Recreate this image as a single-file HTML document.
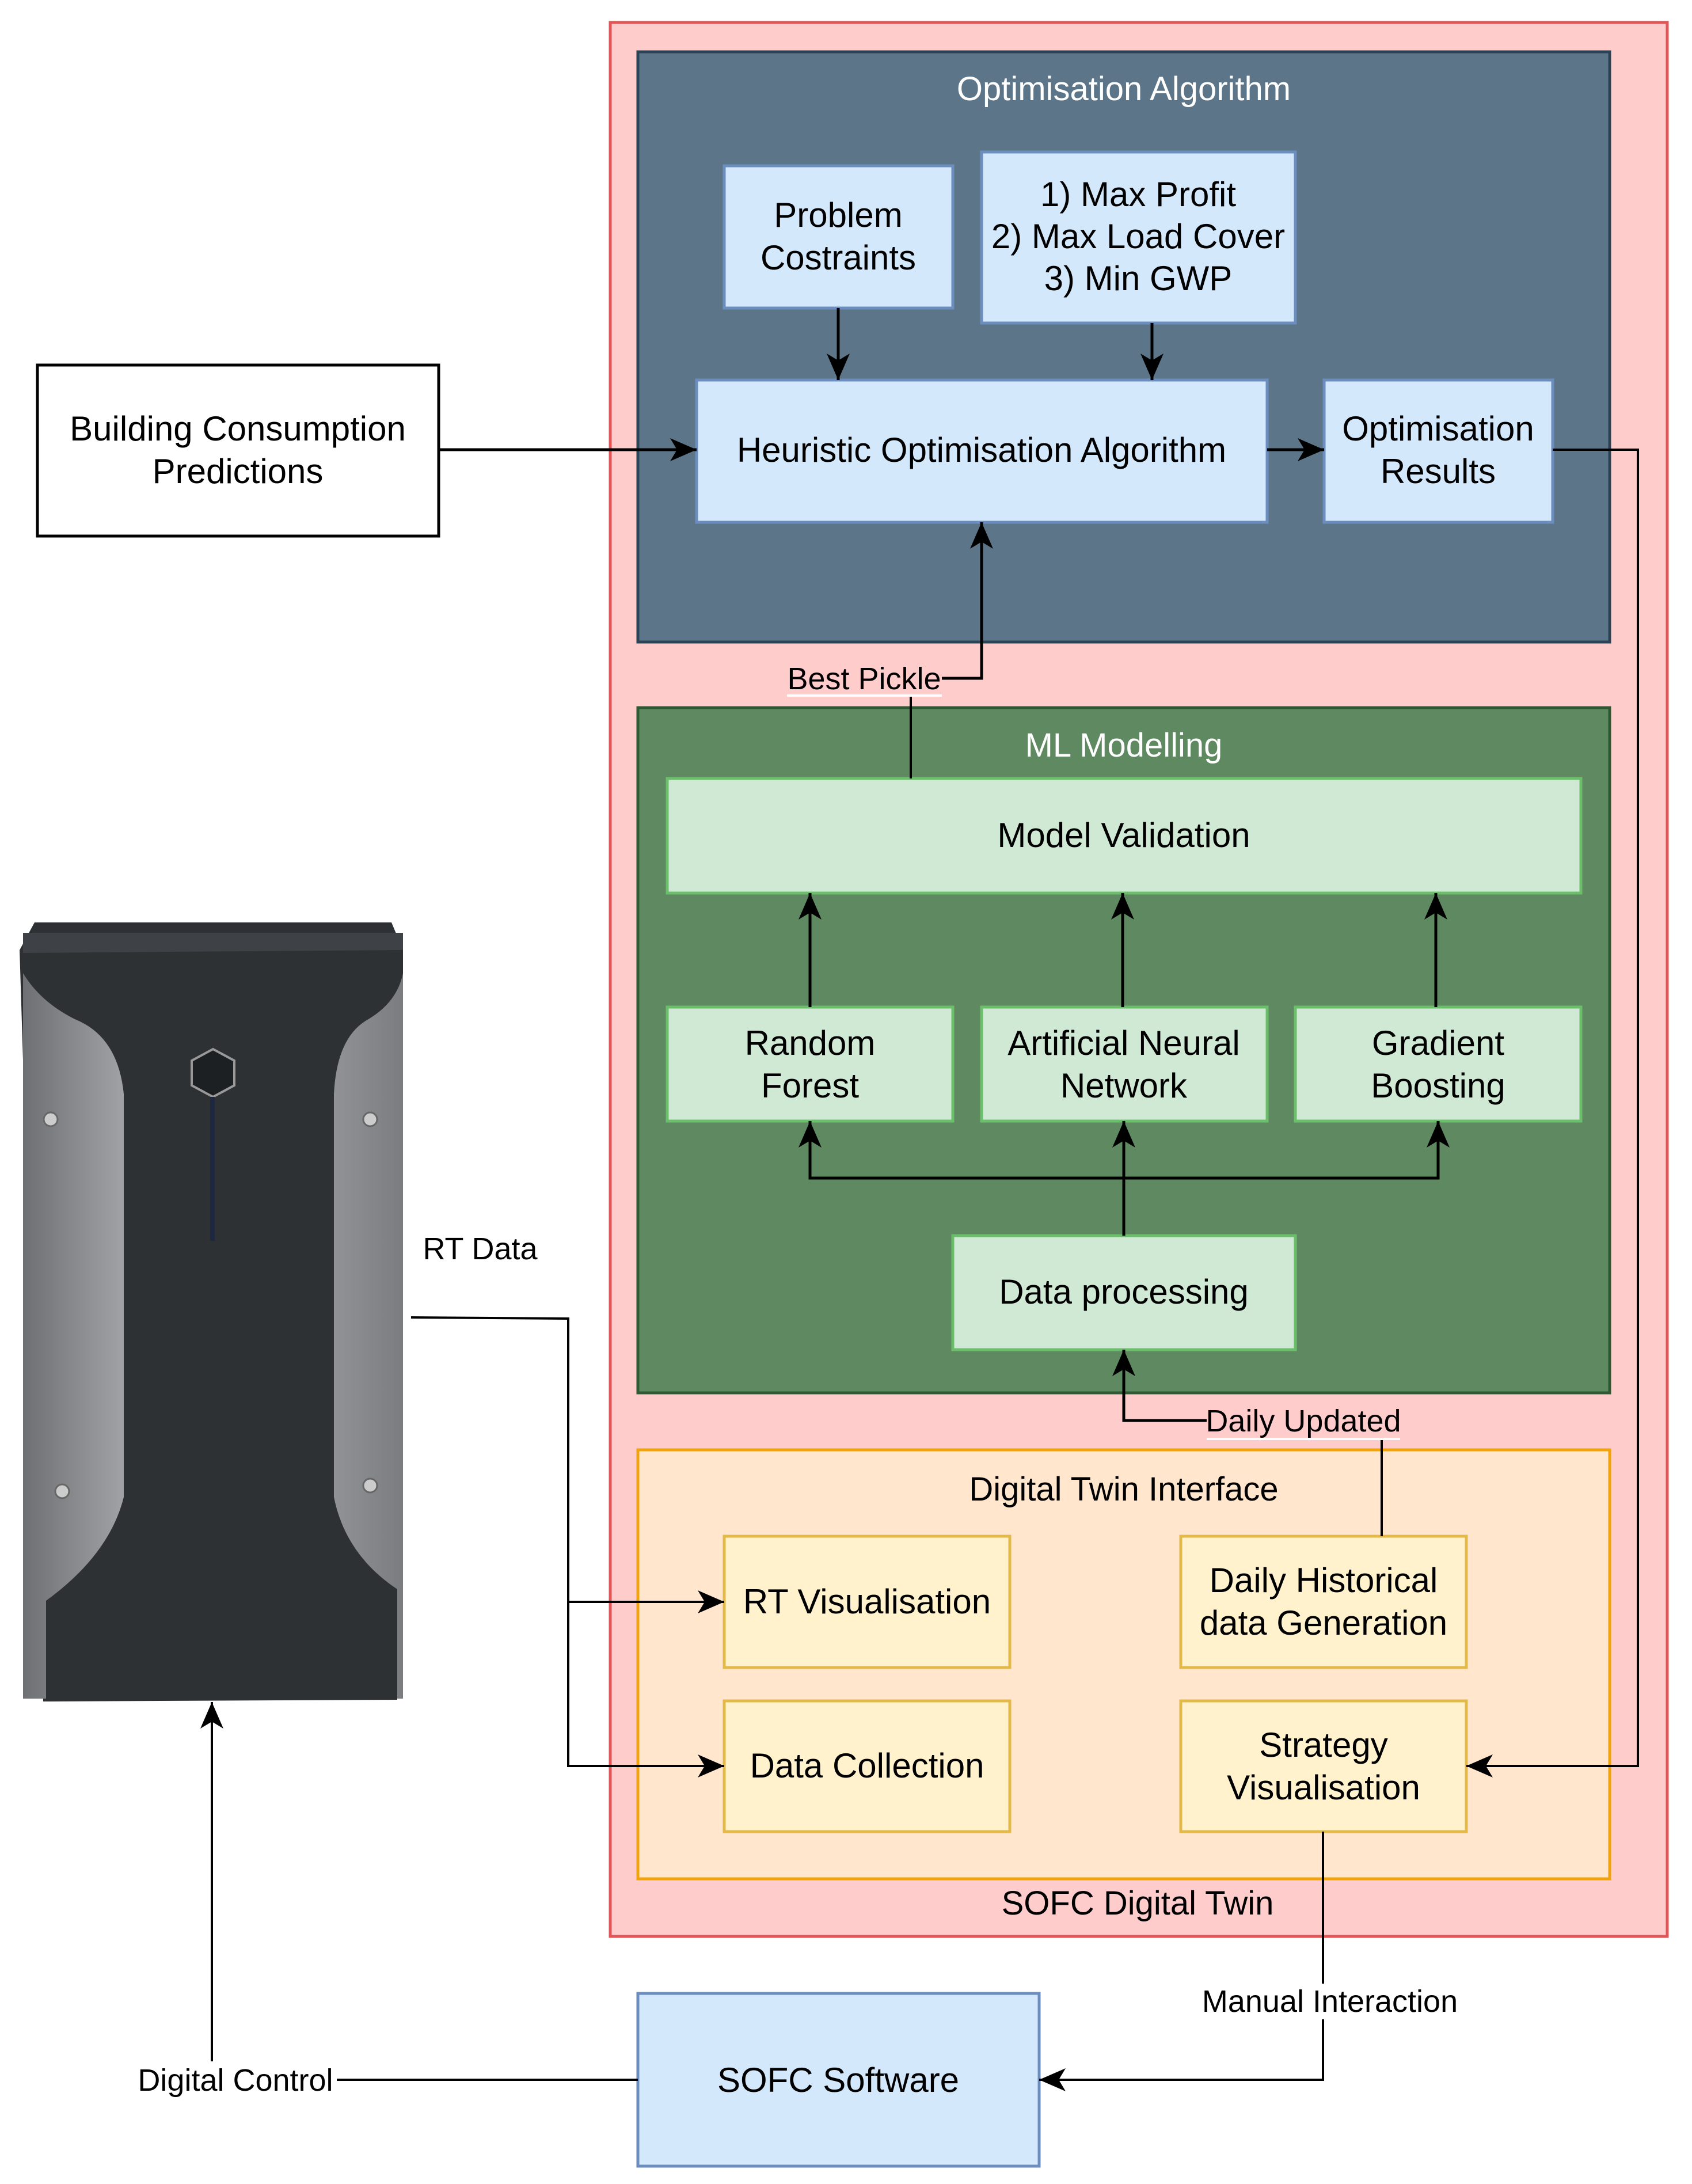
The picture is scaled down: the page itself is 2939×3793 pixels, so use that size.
<!DOCTYPE html>
<html><head><meta charset="utf-8"><style>
html,body{margin:0;padding:0;background:#fff;}
svg{display:block;}
text{font-family:"Liberation Sans",Arial,sans-serif;}
</style></head><body>
<svg width="2939" height="3793" viewBox="0 0 2939 3793" xmlns="http://www.w3.org/2000/svg">
<defs>
<marker id="a" markerUnits="userSpaceOnUse" markerWidth="50" markerHeight="44" refX="46" refY="22" orient="auto">
<path d="M0,2 L46,22 L0,42 L12,22 Z" fill="#000"/>
</marker>
<linearGradient id="side" x1="0" x2="1"><stop offset="0" stop-color="#6e7073"/><stop offset="0.35" stop-color="#b0b2b4"/><stop offset="0.65" stop-color="#a5a7a9"/><stop offset="1" stop-color="#7a7c7f"/></linearGradient>
</defs>

<rect x="1060" y="39" width="1836" height="3324" fill="#ffcccc" stroke="#e05555" stroke-width="5"/>

<rect x="1108" y="90" width="1688" height="1025" fill="#5d7588" stroke="#2c4356" stroke-width="5"/>
<text x="1952" y="174" font-size="58" fill="#fff" text-anchor="middle">Optimisation Algorithm</text>

<g fill="#d4e8fb" stroke="#6c8ebf" stroke-width="5">
<rect x="1258" y="288" width="397" height="247"/>
<rect x="1705" y="264" width="545" height="297"/>
<rect x="1210" y="660" width="991" height="247"/>
<rect x="2300" y="660" width="397" height="247"/>
</g>
<g font-size="60" fill="#000" text-anchor="middle">
<text x="1456" y="394">Problem</text><text x="1456" y="468">Costraints</text>
<text x="1977" y="358">1) Max Profit</text><text x="1977" y="431">2) Max Load Cover</text><text x="1977" y="504">3) Min GWP</text>
<text x="1705" y="802">Heuristic Optimisation Algorithm</text>
<text x="2498" y="765">Optimisation</text><text x="2498" y="839">Results</text>
</g>

<rect x="65" y="634" width="697" height="297" fill="#fff" stroke="#000" stroke-width="5"/>
<text x="413" y="765" font-size="60" text-anchor="middle">Building Consumption</text>
<text x="413" y="839" font-size="60" text-anchor="middle">Predictions</text>

<rect x="1108" y="1229" width="1688" height="1190" fill="#5f8a61" stroke="#2e5a33" stroke-width="5"/>
<text x="1952" y="1314" font-size="58" fill="#fff" text-anchor="middle">ML Modelling</text>
<g fill="#d0e9d5" stroke="#6bbf6b" stroke-width="5">
<rect x="1159" y="1352" width="1587" height="199"/>
<rect x="1159" y="1749" width="496" height="198"/>
<rect x="1705" y="1749" width="496" height="198"/>
<rect x="2250" y="1749" width="496" height="198"/>
<rect x="1655" y="2146" width="595" height="198"/>
</g>
<g font-size="60" fill="#000" text-anchor="middle">
<text x="1952" y="1471">Model Validation</text>
<text x="1407" y="1832">Random</text><text x="1407" y="1906">Forest</text>
<text x="1952" y="1832">Artificial Neural</text><text x="1952" y="1906">Network</text>
<text x="2498" y="1832">Gradient</text><text x="2498" y="1906">Boosting</text>
<text x="1952" y="2264">Data processing</text>
</g>

<rect x="1108" y="2518" width="1688" height="745" fill="#ffe6cc" stroke="#f0a30a" stroke-width="5"/>
<text x="1952" y="2606" font-size="58" text-anchor="middle">Digital Twin Interface</text>
<g fill="#fff2cc" stroke="#e3b94a" stroke-width="5">
<rect x="1258" y="2668" width="496" height="228"/>
<rect x="1258" y="2954" width="496" height="227"/>
<rect x="2051" y="2668" width="496" height="228"/>
<rect x="2051" y="2954" width="496" height="227"/>
</g>
<g font-size="60" fill="#000" text-anchor="middle">
<text x="1506" y="2802">RT Visualisation</text>
<text x="1506" y="3087">Data Collection</text>
<text x="2299" y="2765">Daily Historical</text><text x="2299" y="2839">data Generation</text>
<text x="2299" y="3051">Strategy</text><text x="2299" y="3125">Visualisation</text>
</g>
<text x="1976" y="3325" font-size="58" text-anchor="middle">SOFC Digital Twin</text>

<rect x="1108" y="3462" width="697" height="300" fill="#d4e8fb" stroke="#6c8ebf" stroke-width="5"/>
<text x="1456" y="3633" font-size="60" text-anchor="middle">SOFC Software</text>

<!-- Device -->
<g>
<path d="M60,1602 L680,1602 L700,1650 L700,2945 L75,2955 L34,1650 Z" fill="#2d3134"/>
<rect x="40" y="1650" width="660" height="1300" fill="url(#side)"/>
<path d="M40,1640 L700,1640 L700,1690 Q690,1740 640,1770 Q585,1800 580,1900 L580,2600 Q600,2700 690,2760 L690,2952 L80,2955 L80,2780 Q190,2700 215,2600 L215,1900 Q205,1800 130,1770 Q70,1740 40,1690 Z" fill="#2d3134"/>
<path d="M40,1620 L700,1620 L700,1650 L40,1655 Z" fill="#3e4246"/>
<path d="M333,1842 L370,1822 L407,1842 L407,1885 L370,1905 L333,1885 Z" fill="#1d2022" stroke="#999" stroke-width="4"/>
<rect x="365" y="1905" width="8" height="250" fill="#1e2740"/>
<circle cx="88" cy="1944" r="12" fill="#ccc" stroke="#666" stroke-width="3"/><circle cx="643" cy="1944" r="12" fill="#ccc" stroke="#666" stroke-width="3"/>
<circle cx="108" cy="2590" r="12" fill="#ccc" stroke="#666" stroke-width="3"/><circle cx="643" cy="2580" r="12" fill="#ccc" stroke="#666" stroke-width="3"/>
</g>

<g stroke="#000" stroke-width="5" fill="none">
<path d="M762,781 L1210,781" marker-end="url(#a)"/>
<path d="M2201,781 L2300,781" marker-end="url(#a)"/>
<path d="M1456,535 L1456,660" marker-end="url(#a)"/>
<path d="M2001,561 L2001,660" marker-end="url(#a)"/>
<path d="M2697,781 L2845,781 L2845,3067 L2547,3067" stroke-width="4" marker-end="url(#a)"/>
<path d="M1582,1352 L1582,1210" stroke-width="4"/>
<path d="M1636,1178 L1705,1178 L1705,907" marker-end="url(#a)"/>
<path d="M1407,1749 L1407,1551" marker-end="url(#a)"/>
<path d="M1950,1749 L1950,1551" marker-end="url(#a)"/>
<path d="M2494,1749 L2494,1551" marker-end="url(#a)"/>
<path d="M1952,2146 L1952,1947" marker-end="url(#a)"/>
<path d="M1952,2046 L1407,2046 L1407,1947" marker-end="url(#a)"/>
<path d="M1952,2046 L2498,2046 L2498,1947" marker-end="url(#a)"/>
<path d="M2096,2467 L1952,2467 L1952,2344" marker-end="url(#a)"/>
<path d="M2400,2500 L2400,2668" stroke-width="4"/>
<path d="M714,2288 L987,2290 L987,3067 L1258,3067" stroke-width="4" marker-end="url(#a)"/>
<path d="M987,2782 L1258,2782" stroke-width="4" marker-end="url(#a)"/>
<path d="M2298,3181 L2298,3612 L1805,3612" stroke-width="4" marker-end="url(#a)"/>
<path d="M1108,3612 L368,3612 L368,2956" stroke-width="4" marker-end="url(#a)"/>
</g>

<g font-size="54" fill="#000" text-anchor="middle">
<text x="1501" y="1197">Best Pickle</text>
<text x="2264" y="2486">Daily Updated</text>
<text x="834" y="2187">RT Data</text>
<rect x="2080" y="3445" width="450" height="62" fill="#fff"/>
<text x="2310" y="3494">Manual Interaction</text>
<rect x="225" y="3580" width="360" height="62" fill="#fff"/>
<text x="409" y="3631">Digital Control</text>
</g>
<path d="M1367,1208 L1636,1208" stroke="#fff" stroke-width="4"/>
<path d="M2096,2499 L2432,2499" stroke="#fff" stroke-width="4"/>
</svg>
</body></html>
